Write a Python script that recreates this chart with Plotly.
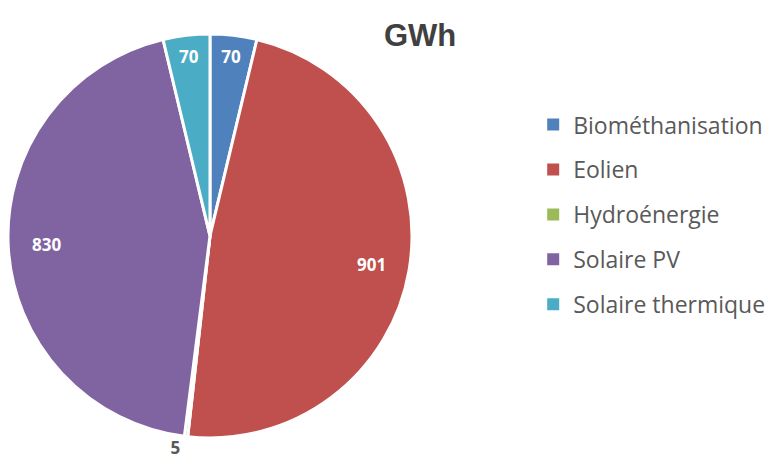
import math
import plotly.graph_objects as go

# Energy production by source (GWh)
categories = ["Biométhanisation", "Eolien", "Hydroénergie", "Solaire PV", "Solaire thermique"]
values = [70, 901, 5, 830, 70]
colors = ["#4F81BD", "#C0504D", "#9BBB59", "#8064A2", "#4BACC6"]
text_positions = ["inside", "inside", "outside", "inside", "inside"]
# large slices get their value placed near the rim instead of the default spot
rim_labelled = ["Eolien", "Solaire PV"]

W, H = 775, 471
dom_x = [0.0103, 0.5316]
dom_y = [0.070, 0.928]

templates = ["" if c in rim_labelled else "%{value}" for c in categories]

fig = go.Figure()

fig.add_trace(go.Pie(
    labels=categories,
    values=values,
    sort=False,
    direction="clockwise",
    rotation=0,
    marker=dict(colors=colors, line=dict(color="white", width=3)),
    texttemplate=templates,
    textposition=text_positions,
    insidetextorientation="horizontal",
    insidetextfont=dict(family="Open Sans", size=17, color="white", weight="bold"),
    outsidetextfont=dict(family="Open Sans", size=17, color="#595959", weight="bold"),
    showlegend=False,
    domain=dict(x=dom_x, y=dom_y),
    hoverinfo="label+value+percent",
))

# Value labels for the large slices, at the middle angle of each slice
cx_px = (dom_x[0] + dom_x[1]) / 2 * W
cy_paper = (dom_y[0] + dom_y[1]) / 2
radius_px = min((dom_x[1] - dom_x[0]) * W, (dom_y[1] - dom_y[0]) * H) / 2
total = sum(values)
annotations = []
cum = 0
for name, v in zip(categories, values):
    mid = (cum + v / 2) / total * 2 * math.pi
    cum += v
    if name not in rim_labelled:
        continue
    r = 0.81 * radius_px
    annotations.append(dict(
        text=f"<b>{v}</b>",
        x=(cx_px + r * math.sin(mid)) / W,
        y=cy_paper + r * math.cos(mid) / H,
        xref="paper", yref="paper", xanchor="center", yanchor="middle",
        showarrow=False,
        font=dict(family="Open Sans", size=17, color="white"),
    ))

annotations.append(dict(
    text="<b>GWh</b>", x=0.542, y=0.925, xref="paper", yref="paper",
    xanchor="center", yanchor="middle", showarrow=False,
    font=dict(family="Liberation Sans", size=31, color="#404040"),
))

# Legend entries, one group each so the spacing can be set
for name, col in zip(categories, colors):
    fig.add_trace(go.Scatter(
        x=[None], y=[None], mode="markers", name=name,
        legendgroup=name,
        marker=dict(symbol="square", size=13, color=col),
    ))

fig.update_layout(
    width=W, height=H,
    margin=dict(l=0, r=0, t=0, b=0),
    paper_bgcolor="white",
    plot_bgcolor="white",
    xaxis=dict(visible=False),
    yaxis=dict(visible=False),
    legend=dict(
        x=0.688, y=0.781, xanchor="left", yanchor="top",
        font=dict(family="Open Sans", size=23, color="#595959"),
        tracegroupgap=12,
        itemsizing="constant",
        bgcolor="rgba(0,0,0,0)",
    ),
    annotations=annotations,
)

fig.write_html("out.html")
